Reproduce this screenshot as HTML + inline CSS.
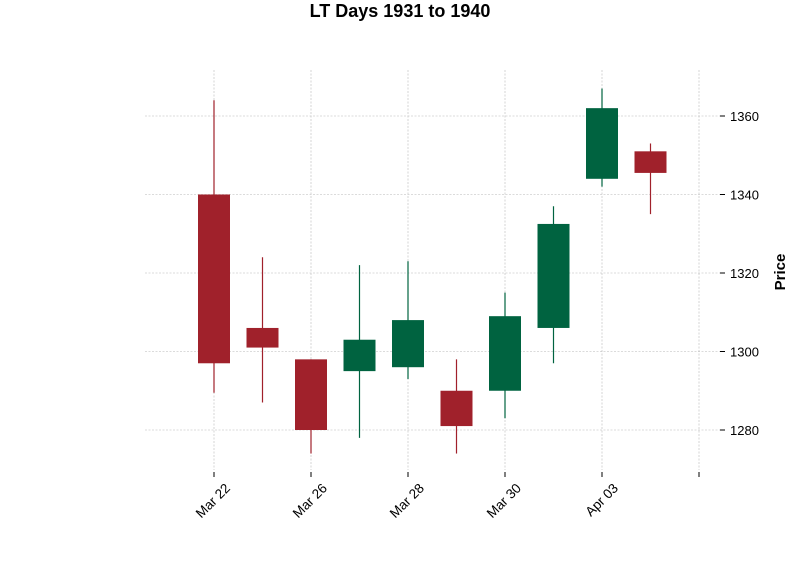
<!DOCTYPE html>
<html><head><meta charset="utf-8"><style>
body{margin:0;background:#fff;}
svg text{font-family:"Liberation Sans","DejaVu Sans",sans-serif;}
</style></head><body>
<svg id="c" width="800" height="575" xmlns="http://www.w3.org/2000/svg">
<text x="400" y="17" text-anchor="middle" font-size="18" font-weight="bold">LT Days 1931 to 1940</text>
<text transform="translate(785,272) rotate(-90)" text-anchor="middle" font-size="15" font-weight="bold">Price</text>
<g id="grid"></g><g id="marks"></g><g id="axes"></g>
</svg>
<script>
const opens=[1340,1306,1298,1295,1296,1290,1290,1306,1344,1351];
const closes=[1297,1301,1280,1303,1308,1281,1309,1332.5,1362,1345.5];
const highs=[1364,1324,1298,1322,1323,1298,1315,1337,1367,1353];
const lows=[1289.5,1287,1274,1278,1293,1274,1283,1297,1342,1335];
const yTicks=[1280,1300,1320,1340,1360];
const xTickIdx=[0,2,4,6,8,10];
const xTickLabels=["Mar 22","Mar 26","Mar 28","Mar 30","Apr 03",""];
const NS="http://www.w3.org/2000/svg";
const X0=145,X1=720,Y0=70,Y1=470;
function xs(i){return 214+i*48.5;}
function ys(v){return 430-(v-1280)*3.925;}
function mk(t,a,p){const e=document.createElementNS(NS,t);for(const k in a)e.setAttribute(k,a[k]);p.appendChild(e);return e;}
const grid=document.getElementById('grid'),marks=document.getElementById('marks'),axes=document.getElementById('axes');
yTicks.forEach(v=>{const y=ys(v);
 const g=mk('line',{x1:X0,x2:X1,y1:y,y2:y,stroke:'#b8b8b8','stroke-width':0.6,'stroke-dasharray':'2,1.5'},grid);
 
 
 const t=mk('line',{x1:X1,x2:X1+5,y1:y,y2:y,stroke:'#000'},axes);
 
 
 const l=mk('text',{x:X1+10,y:y+5,'font-size':13},axes);l.textContent=v;
 
 
});
xTickIdx.forEach((i,k)=>{const x=xs(i);
 const g=mk('line',{x1:x,x2:x,y1:Y0,y2:Y1,stroke:'#b8b8b8','stroke-width':0.6,'stroke-dasharray':'2,1.5'},grid);
 
 
 const t=mk('line',{x1:x,x2:x,y1:Y1+2,y2:Y1+7,stroke:'#000'},axes);
 
 
 const l=mk('text',{x:0,y:0,'font-size':13.5,'text-anchor':'end',transform:`translate(${x+17},${Y1+19}) rotate(-45)`},axes);l.textContent=xTickLabels[k];
 
 
});
opens.forEach((o,i)=>{const c=closes[i];const col=c>=o?'#006340':'#a0212b';const x=xs(i);
 const w=mk('line',{x1:x,x2:x,y1:ys(highs[i]),y2:ys(lows[i]),stroke:col,'stroke-width':1.2},marks);
 
 
 const top=ys(Math.max(o,c)),bot=ys(Math.min(o,c));
 const r=mk('rect',{x:x-16,y:top,width:32,height:Math.max(1,bot-top),fill:col},marks);
 
 
});
</script>
</body></html>
